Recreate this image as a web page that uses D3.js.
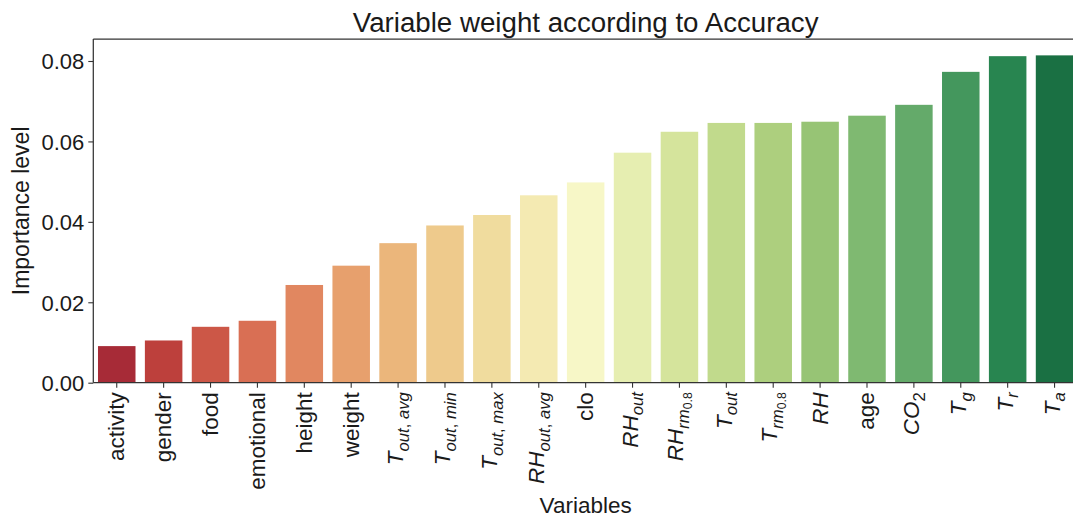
<!DOCTYPE html>
<html>
<head>
<meta charset="utf-8">
<script src="https://cdn.jsdelivr.net/npm/d3@7"></script>
<style>
  html, body { margin: 0; padding: 0; background: #fff; }
  svg { display: block; font-family: "Liberation Sans", Arial, sans-serif; }
</style>
</head>
<body>
<svg id="chart" width="1073" height="519"></svg>
<script>
// Variables (mathtext-style labels: letters italic, digits upright, _ = subscript)
const categories = [
  "activity", "gender", "food", "emotional", "height", "weight",
  "$T_{out, avg}$", "$T_{out, min}$", "$T_{out, max}$", "$RH_{out, avg}$",
  "clo", "$RH_{out}$", "$RH_{rm_{0.8}}$", "$T_{out}$", "$T_{rm_{0.8}}$",
  "$RH$", "age", "$CO_2$", "$T_g$", "$T_r$", "$T_a$"
];
// Importance of each variable
const importance = [
  0.0091, 0.0105, 0.0139, 0.0154, 0.0243, 0.0291,
  0.0347, 0.0391, 0.0417, 0.0466,
  0.0498, 0.0572, 0.0624, 0.0646, 0.0646,
  0.0649, 0.0664, 0.0691, 0.0773, 0.0812, 0.0814
];
const yTicks = [0, 0.02, 0.04, 0.06, 0.08];

const titleText = "Variable weight according to Accuracy";
const xLabel = "Variables";
const yLabel = "Importance level";

// RdYlGn anchor colours, interpolated linearly like a matplotlib colormap
const rdylgn = ["#a50026","#d73027","#f46d43","#fdae61","#fee08b","#ffffbf",
                "#d9ef8b","#a6d96a","#66bd63","#1a9850","#006837"];

const width = 1073, height = 519;
// the axes box runs slightly past the right edge of the canvas
const plot = { left: 93.3, right: 1078, top: 39, bottom: 382.7 };
const ink = "#1a1a1a";

const svg = d3.select("#chart");

const x = d3.scaleBand()
  .domain(categories)
  .range([plot.left, plot.right])
  .paddingInner(0.2)
  .paddingOuter(0.1);

const y = d3.scaleLinear()
  .domain([0, d3.max(importance) * 1.05])
  .range([plot.bottom, plot.top]);

const cmap = d3.scaleLinear()
  .domain(d3.range(rdylgn.length).map(i => i / (rdylgn.length - 1)))
  .range(rdylgn)
  .interpolate(d3.interpolateRgb);

// palette sampled away from the ends, then desaturated to 75%
const n = categories.length;
const colors = categories.map((c, i) => {
  const hsl = d3.hsl(cmap((i + 1) / (n + 1)));
  hsl.s *= 0.75;
  return hsl.formatHex();
});

// bars
svg.append("g")
  .selectAll("rect")
  .data(categories)
  .join("rect")
  .attr("x", d => x(d))
  .attr("width", x.bandwidth())
  .attr("y", (d, i) => y(importance[i]))
  .attr("height", (d, i) => y(0) - y(importance[i]))
  .attr("fill", (d, i) => colors[i]);

// y axis
const yAxis = svg.append("g")
  .attr("transform", `translate(${plot.left},0)`)
  .call(d3.axisLeft(y).tickValues(yTicks).tickFormat(d3.format(".2f")).tickSize(5).tickPadding(4));
yAxis.select(".domain").remove();
yAxis.selectAll(".tick line").attr("stroke", "#333").attr("stroke-width", 1.1);
yAxis.selectAll(".tick text")
  .attr("fill", ink)
  .style("font-size", "22px")
  .attr("dy", "0.36em");

// x axis ticks (labels drawn separately)
const xAxis = svg.append("g")
  .attr("transform", `translate(0,${plot.bottom})`)
  .call(d3.axisBottom(x).tickSize(5).tickFormat(""));
xAxis.select(".domain").remove();
xAxis.selectAll(".tick line").attr("stroke", "#333").attr("stroke-width", 1.1);

// parse mathtext-like label into runs {text, level, italic}
function parseMath(s) {
  const runs = [];
  function walk(str, level) {
    let i = 0;
    while (i < str.length) {
      const ch = str[i];
      if (ch === "_") {
        i++;
        if (str[i] === "{") {
          let depth = 1, j = i + 1;
          while (j < str.length && depth > 0) {
            if (str[j] === "{") depth++;
            else if (str[j] === "}") depth--;
            j++;
          }
          walk(str.slice(i + 1, j - 1), level + 1);
          i = j;
        } else {
          walk(str[i], level + 1);
          i++;
        }
      } else {
        const italic = /[A-Za-z]/.test(ch);
        const last = runs[runs.length - 1];
        if (last && last.level === level && last.italic === italic) last.text += ch;
        else runs.push({ text: ch, level, italic });
        i++;
      }
    }
  }
  if (s.startsWith("$") && s.endsWith("$")) walk(s.slice(1, -1), 0);
  else runs.push({ text: s, level: 0, italic: false });
  return runs;
}

const baseSize = 22.5;
const shrink = 0.74;
const shiftPerLevel = [0, 5.5, 3.6];

const labelLayer = svg.append("g");
categories.forEach((cat, i) => {
  const cx = x(cat) + x.bandwidth() / 2;
  const g = labelLayer.append("g");
  const t = g.append("text")
    .attr("text-anchor", "end")
    .attr("fill", ink);
  let curLevel = 0;
  parseMath(cat).forEach(r => {
    let dy = 0;
    if (r.level > curLevel) for (let l = curLevel + 1; l <= r.level; l++) dy += shiftPerLevel[l];
    else if (r.level < curLevel) for (let l = curLevel; l > r.level; l--) dy -= shiftPerLevel[l];
    curLevel = r.level;
    t.append("tspan")
      .attr("dy", dy)
      .style("font-size", (baseSize * Math.pow(shrink, r.level)) + "px")
      .style("font-style", r.italic && cat.startsWith("$") ? "italic" : "normal")
      .text(r.text);
  });
  const bb = t.node().getBBox();
  const off = -(bb.y + bb.height / 2);
  t.attr("y", off);
  g.attr("transform", `translate(${cx},${plot.bottom + 9.5}) rotate(-90)`);
});

// spines: left, top, bottom
const spine = svg.append("g").attr("stroke", "#333").attr("stroke-width", 1.25).attr("fill", "none");
spine.append("line").attr("x1", plot.left).attr("x2", plot.left).attr("y1", plot.top).attr("y2", plot.bottom);
spine.append("line").attr("x1", plot.left).attr("x2", plot.right).attr("y1", plot.top).attr("y2", plot.top);
spine.append("line").attr("x1", plot.left).attr("x2", plot.right).attr("y1", plot.bottom).attr("y2", plot.bottom);

// title and axis labels
svg.append("text")
  .attr("x", (plot.left + plot.right) / 2)
  .attr("y", 31.5)
  .attr("text-anchor", "middle")
  .attr("fill", ink)
  .style("font-size", "27.7px")
  .text(titleText);

svg.append("text")
  .attr("x", (plot.left + plot.right) / 2)
  .attr("y", 513)
  .attr("text-anchor", "middle")
  .attr("fill", ink)
  .style("font-size", "22.5px")
  .text(xLabel);

svg.append("text")
  .attr("transform", `translate(29,${(plot.top + plot.bottom) / 2}) rotate(-90)`)
  .attr("text-anchor", "middle")
  .attr("fill", ink)
  .style("font-size", "23px")
  .text(yLabel);
</script>
</body>
</html>
